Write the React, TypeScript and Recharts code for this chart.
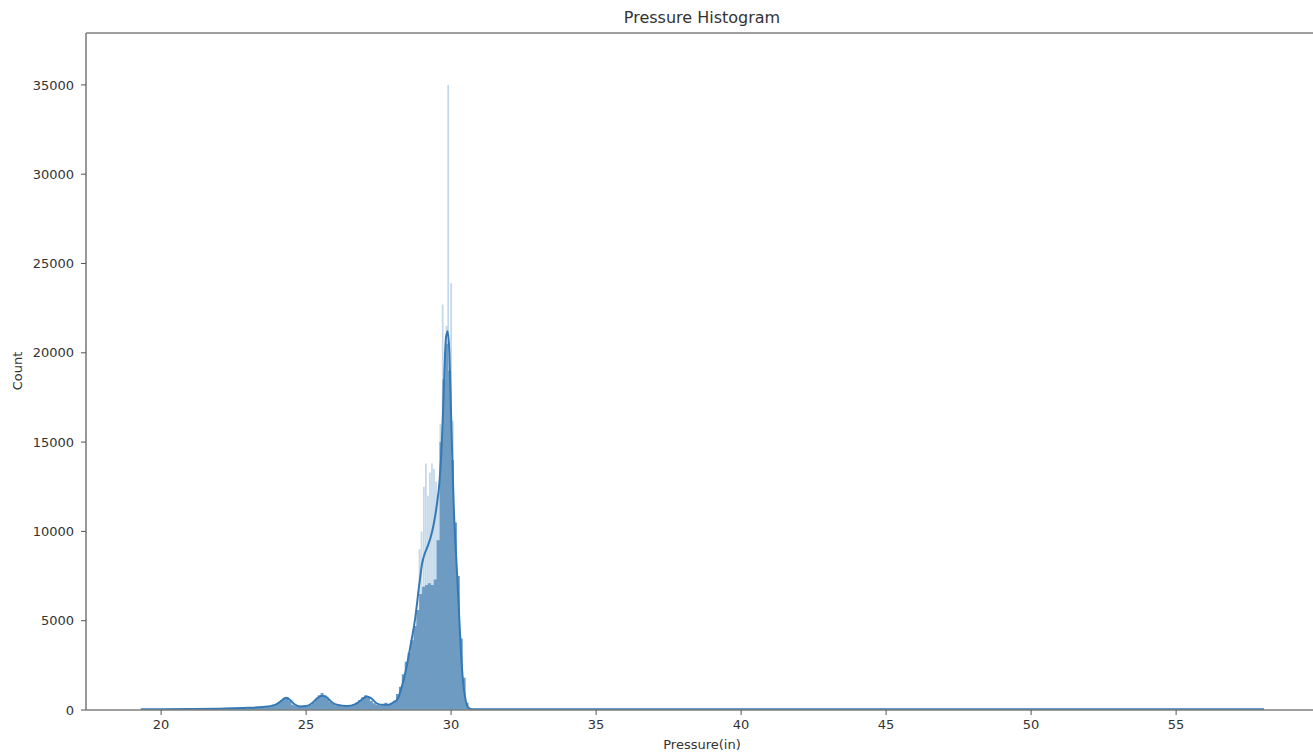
import { ComposedChart, Area, Line, XAxis, YAxis, ReferenceLine } from 'recharts';

// axis ticks
const X_TICKS = [20, 25, 30, 35, 40, 45, 50, 55];
const Y_TICKS = [0, 5000, 10000, 15000, 20000, 25000, 30000, 35000];
const X_DOMAIN = [17.41, 59.72];
const Y_MAX = 37906;

// histogram: coarse tail on the left, 0.1 bins in the middle, coarse tail on the right
const leftEdges = [19.3, 20, 21, 22, 23];
const leftCounts = [45, 45, 50, 75, 110];

const fineStart = 23.5;
const fineStep = 0.1;
const fineCounts = [
  150, 170, 200, 240, 300,
  420, 560, 650, 720, 520,
  300, 220, 180, 170, 190,
  230, 300, 420, 600, 820,
  950, 820, 620, 450, 330,
  260, 220, 200, 210, 230,
  260, 320, 420, 560, 720,
  820, 720, 520, 380, 300,
  270, 280, 400, 330, 340,
  520, 900, 1300, 2000, 2700,
  3200, 3900, 4700, 5600, 6500,
  6900, 7000, 7100, 7000, 7300,
  9500, 15000, 18500, 20500, 19000,
  14000, 10500, 7500, 4000, 1800,
  400, 60, 45,
];

const rightEdges = [30.8, 35, 40, 45, 50, 55];
const rightCounts = [45, 45, 45, 45, 45, 45];
const HIST_END = 58.03;

// tall narrow bins that stick out of the main body
const spikeX = [28.88, 28.95, 29.03, 29.1, 29.17, 29.24, 29.31, 29.38, 29.45, 29.52, 29.6, 29.68, 29.75, 29.81, 29.87, 29.97, 30.03];
const spikeY = [9000, 10000, 12500, 13800, 12000, 13300, 13800, 13500, 12800, 12000, 16000, 22700, 20000, 21500, 35000, 23900, 16200];
const SPIKE_W = 0.06;

// kde curve (count scale)
const kdeX = [
  19.3, 20, 21, 22, 23, 23.5, 23.8, 24.0, 24.15, 24.3,
  24.45, 24.6, 24.8, 25.0, 25.2, 25.4, 25.55, 25.7, 25.9, 26.1,
  26.4, 26.7, 26.9, 27.1, 27.25, 27.45, 27.65, 27.85, 28.0, 28.15,
  28.3, 28.45, 28.6, 28.75, 28.9, 29.0, 29.1, 29.2, 29.3, 29.4,
  29.5, 29.6, 29.68, 29.75, 29.82, 29.88, 29.94, 30.0, 30.05, 30.1,
  30.15, 30.2, 30.25, 30.3, 30.35, 30.4, 30.5, 30.6, 30.7, 30.85,
  31.5, 35, 40, 45, 50, 55, 58.03,
];
const kdeY = [
  40, 45, 50, 75, 120, 170, 230, 340, 520, 680,
  560, 320, 200, 220, 380, 680, 800, 720, 420, 280,
  220, 330, 560, 760, 650, 360, 290, 300, 420, 600,
  1300, 2300, 3600, 5000, 7000, 8200, 8800, 9200, 9700, 10400,
  11400, 12800, 15000, 18000, 20800, 21200, 20000, 16500, 13500, 11000,
  9300, 7800, 6200, 4500, 3000, 1800, 550, 120, 45, 40,
  40, 40, 40, 40, 40, 40, 40,
];

const histData = [
  ...leftEdges.map((x, i) => ({ x, count: leftCounts[i] })),
  ...fineCounts.map((c, i) => ({ x: +(fineStart + i * fineStep).toFixed(2), count: c })),
  ...rightEdges.map((x, i) => ({ x, count: rightCounts[i] })),
  { x: HIST_END, count: rightCounts[rightCounts.length - 1] },
];

const spikeData: { x: number; count: number }[] = [{ x: 28.8, count: 0 }];
spikeX.forEach((x, i) => {
  spikeData.push({ x, count: spikeY[i] });
  spikeData.push({ x: +(x + SPIKE_W).toFixed(3), count: 0 });
});

const kdeData = kdeX.map((x, i) => ({ x, kde: kdeY[i] }));

const FONT = '"DejaVu Sans", sans-serif';
const SPINE = '#7f7f7f';
const tickStyle = { fontSize: 13, fill: '#333', fontFamily: FONT };

export default function App() {
  return (
    <div style={{ position: 'fixed', left: 0, top: 0, width: 1313, height: 755, overflow: 'hidden', background: '#fff' }}>
      <div style={{
        position: 'absolute', left: 702, top: 9, transform: 'translateX(-50%)',
        fontFamily: FONT, fontSize: 16, lineHeight: '18px', color: '#333', whiteSpace: 'nowrap',
      }}>
        Pressure Histogram
      </div>
      <div style={{
        position: 'absolute', left: 702, top: 737, transform: 'translateX(-50%)',
        fontFamily: FONT, fontSize: 13, lineHeight: '16px', color: '#333', whiteSpace: 'nowrap',
      }}>
        Pressure(in)
      </div>
      <div style={{
        position: 'absolute', left: 18, top: 371, transform: 'translate(-50%, -50%) rotate(-90deg)',
        fontFamily: FONT, fontSize: 13, lineHeight: '16px', color: '#333', whiteSpace: 'nowrap',
      }}>
        Count
      </div>
      <ComposedChart width={1313} height={755} margin={{ top: 33, right: 0, bottom: 0, left: 0 }}>
        <XAxis
          type="number"
          dataKey="x"
          domain={X_DOMAIN}
          allowDataOverflow
          ticks={X_TICKS}
          height={45}
          tick={tickStyle}
          tickSize={5}
          tickMargin={5}
          axisLine={{ stroke: SPINE, strokeWidth: 1.6 }}
          tickLine={{ stroke: '#555' }}
        />
        <YAxis
          type="number"
          domain={[0, Y_MAX]}
          allowDataOverflow
          ticks={Y_TICKS}
          width={86}
          tick={tickStyle}
          tickSize={5}
          tickMargin={7}
          axisLine={{ stroke: SPINE, strokeWidth: 1.6 }}
          tickLine={{ stroke: '#555' }}
        />
        <ReferenceLine y={Y_MAX} stroke={SPINE} strokeWidth={1.6} />
        <Area
          data={spikeData}
          dataKey="count"
          type="stepAfter"
          fill="#c4d8ea"
          fillOpacity={1}
          stroke="none"
          isAnimationActive={false}
        />
        <Area
          data={histData}
          dataKey="count"
          type="stepAfter"
          fill="#6d9bc1"
          fillOpacity={1}
          stroke="none"
          isAnimationActive={false}
        />
        <Line
          data={kdeData}
          dataKey="kde"
          type="monotone"
          stroke="#3479b5"
          strokeWidth={2}
          dot={false}
          isAnimationActive={false}
        />
      </ComposedChart>
    </div>
  );
}
